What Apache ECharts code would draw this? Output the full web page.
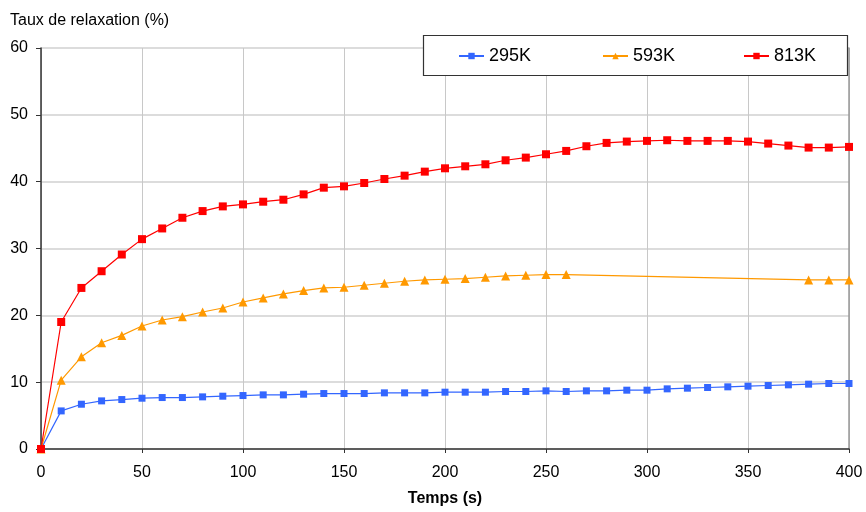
<!DOCTYPE html>
<html><head><meta charset="utf-8">
<script src="https://cdn.jsdelivr.net/npm/echarts@6/dist/echarts.min.js"></script>
<style>html,body{margin:0;padding:0;background:#fff}#c{width:866px;height:512px}</style>
</head><body><div id="c"></div>
<script>
var timeValues = [0,10,20,30,40,50,60,70,80,90,100,110,120,130,140,150,160,170,180,190,200,210,220,230,240,250,260,270,280,290,300,310,320,330,340,350,360,370,380,390,400];
var s295 = [0,5.7,6.7,7.2,7.4,7.6,7.7,7.7,7.8,7.9,8.0,8.1,8.1,8.2,8.3,8.3,8.3,8.4,8.4,8.4,8.5,8.5,8.5,8.6,8.6,8.7,8.6,8.7,8.7,8.8,8.8,9.0,9.1,9.2,9.3,9.4,9.5,9.6,9.7,9.8,9.8];
var t593 = [0,10,20,30,40,50,60,70,80,90,100,110,120,130,140,150,160,170,180,190,200,210,220,230,240,250,260,380,390,400];
var s593 = [0,10.3,13.8,15.9,17.0,18.4,19.3,19.8,20.5,21.1,22.0,22.6,23.2,23.7,24.1,24.2,24.5,24.8,25.1,25.3,25.4,25.5,25.7,25.9,26.0,26.1,26.1,25.3,25.3,25.3];
var s813 = [0,19.0,24.1,26.6,29.1,31.4,33.0,34.6,35.6,36.3,36.6,37.0,37.3,38.1,39.1,39.3,39.8,40.4,40.9,41.5,42.0,42.3,42.6,43.2,43.6,44.1,44.6,45.3,45.8,46.0,46.1,46.2,46.1,46.1,46.1,46.0,45.7,45.4,45.1,45.1,45.2];
var seriesNames = ['295K','593K','813K'];
var xTicks = {min:0,max:400,interval:50};
var yTicks = {min:0,max:60,interval:10};

function pairs(xs, ys){ return xs.map(function(x,i){return [x, ys[i]];}); }

var font = 'Liberation Sans, Arial, sans-serif';
var chart = echarts.init(document.getElementById('c'));
var legendCommon = {
  top: 42, itemWidth: 25, itemHeight: 8, itemGap: 0, z: 20,
  textStyle: {fontFamily: font, fontSize: 18, color: '#000'}
};
chart.setOption({
  animation: false,
  title: {text: 'Taux de relaxation (%)', left: 5, top: 8,
    textStyle: {fontFamily: font, fontSize: 16, fontWeight: 'normal', color: '#000'}},
  grid: {left: 41, right: 17, top: 48, bottom: 61},
  graphic: [{type: 'rect', z: 10, shape: {x: 423.5, y: 35.5, width: 424, height: 40},
    style: {fill: '#fff', stroke: '#333', lineWidth: 1.2}}],
  legend: [
    Object.assign({left: 453, data: [seriesNames[0]]}, legendCommon),
    Object.assign({left: 597, data: [seriesNames[1]]}, legendCommon),
    Object.assign({left: 738, data: [seriesNames[2]]}, legendCommon)
  ],
  xAxis: {type: 'value', min: xTicks.min, max: xTicks.max, interval: xTicks.interval,
    name: 'Temps (s)', nameLocation: 'middle', nameGap: 42,
    nameTextStyle: {fontFamily: font, fontSize: 16, fontWeight: 'bold', color: '#000', verticalAlign: 'top'},
    axisLine: {lineStyle: {color: '#333', width: 1.5}},
    axisTick: {show: true, length: 4, lineStyle: {color: '#333'}},
    axisLabel: {fontFamily: font, fontSize: 16, color: '#000', margin: 16},
    splitLine: {lineStyle: {color: '#c8c8c8', width: 1}}},
  yAxis: [{type: 'value', min: yTicks.min, max: yTicks.max, interval: yTicks.interval,
    axisLine: {show: true, lineStyle: {color: '#333', width: 1.5}},
    axisTick: {show: true, length: 5, lineStyle: {color: '#333'}},
    axisLabel: {fontFamily: font, fontSize: 16, color: '#000', margin: 13},
    splitLine: {lineStyle: {color: '#d0d0d0', width: 1.5}}},
    {type: 'value', position: 'right', min: yTicks.min, max: yTicks.max,
    axisLine: {show: true, lineStyle: {color: '#999', width: 1.5}},
    axisTick: {show: false}, axisLabel: {show: false}, splitLine: {show: false}}],
  series: [
    {name: seriesNames[0], type: 'line', data: pairs(timeValues, s295), symbol: 'rect', symbolSize: 7,
      itemStyle: {color: '#3366ff'}, lineStyle: {color: '#3366ff', width: 1.2}},
    {name: seriesNames[1], type: 'line', data: pairs(t593, s593), symbol: 'triangle', symbolSize: 9,
      itemStyle: {color: '#ff9900'}, lineStyle: {color: '#ff9900', width: 1.2}},
    {name: seriesNames[2], type: 'line', data: pairs(timeValues, s813), symbol: 'rect', symbolSize: 8,
      itemStyle: {color: '#ff0000'}, lineStyle: {color: '#ff0000', width: 1.2}}
  ]
});
</script></body></html>
